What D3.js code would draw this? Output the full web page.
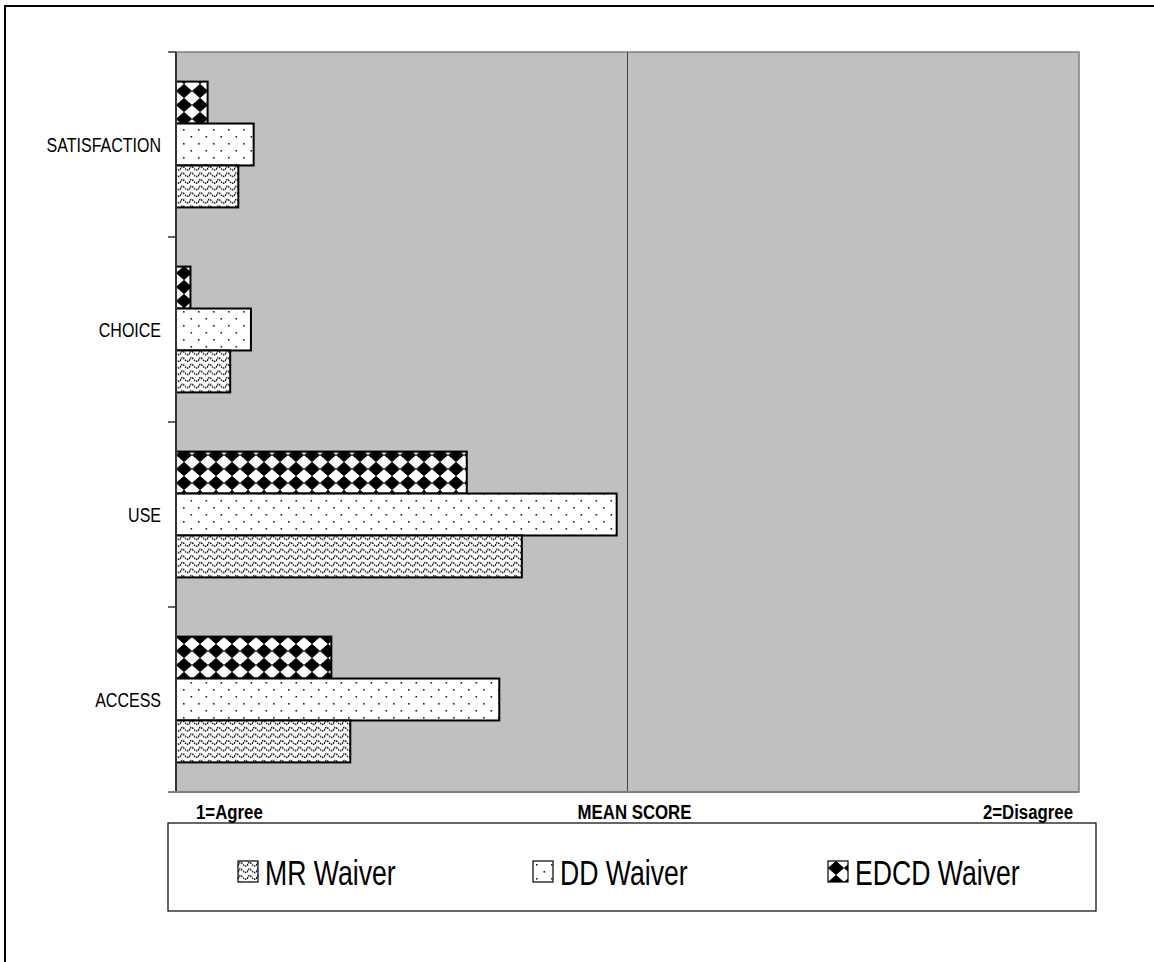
<!DOCTYPE html>
<html>
<head>
<meta charset="utf-8">
<script src="https://cdn.jsdelivr.net/npm/d3@7"></script>
<style>
  html, body { margin: 0; padding: 0; background: #fff; }
  svg { display: block; }
  text { font-family: "Liberation Sans", Arial, sans-serif; fill: #000; }
</style>
</head>
<body>
<svg id="chart" width="1154" height="962"></svg>
<script>
// Categories from top to bottom of the chart
const categories = ["SATISFACTION", "CHOICE", "USE", "ACCESS"];
// Series, in the order they are stacked inside each category (top to bottom)
const seriesNames = ["EDCD Waiver", "DD Waiver", "MR Waiver"];
// Mean scores per category (same order as categories)
const edcdValues = [1.035, 1.016, 1.322, 1.172];
const ddValues   = [1.086, 1.083, 1.488, 1.358];
const mrValues   = [1.069, 1.060, 1.383, 1.193];
// Legend order
const legendOrder = ["MR Waiver", "DD Waiver", "EDCD Waiver"];
const axisDomain = [1, 2];
const axisLabels = ["1=Agree", "MEAN SCORE", "2=Disagree"];

const valuesBySeries = {
  "EDCD Waiver": edcdValues,
  "DD Waiver": ddValues,
  "MR Waiver": mrValues
};
const patternId = {
  "EDCD Waiver": "pat-diamond",
  "DD Waiver": "pat-dots",
  "MR Waiver": "pat-wave"
};

// Narrow type: regular sans compressed horizontally
const NARROW = 0.8;
function narrowText(sel, x, y, anchor) {
  return sel.attr("text-anchor", anchor)
    .attr("transform", `translate(${x},${y}) scale(${NARROW},1)`);
}

const svg = d3.select("#chart");
const defs = svg.append("defs");

// Diamond checker fill
const pd = defs.append("pattern").attr("id", "pat-diamond")
  .attr("patternUnits", "userSpaceOnUse").attr("width", 16).attr("height", 14);
pd.append("rect").attr("width", 16).attr("height", 14).attr("fill", "#fff");
pd.append("path").attr("d", "M8,0.3 L15.7,7 L8,13.7 L0.3,7 Z")
  .attr("fill", "#000").attr("stroke", "#000").attr("stroke-width", 0.8)
  .attr("stroke-linejoin", "round");

// Sparse staggered dots
const pdots = defs.append("pattern").attr("id", "pat-dots")
  .attr("patternUnits", "userSpaceOnUse").attr("width", 15).attr("height", 14);
pdots.append("rect").attr("width", 15).attr("height", 14).attr("fill", "#fff");
pdots.append("rect").attr("x", 3).attr("y", 3).attr("width", 1.6).attr("height", 1.6).attr("fill", "#222");
pdots.append("rect").attr("x", 10.5).attr("y", 10).attr("width", 1.6).attr("height", 1.6).attr("fill", "#222");

// Dotted wavy lines
const pw = defs.append("pattern").attr("id", "pat-wave")
  .attr("patternUnits", "userSpaceOnUse").attr("width", 9).attr("height", 6.6);
pw.append("rect").attr("width", 9).attr("height", 6.6).attr("fill", "#fff");
pw.append("path").attr("d", "M0,4.5 C2.2,0.5 2.2,0.5 4.5,2.8 C6.8,5.2 6.8,5.2 9,4.5")
  .attr("fill", "none").attr("stroke", "#000").attr("stroke-width", 1.4)
  .attr("stroke-dasharray", "1.6,0.9");

// Outer frame (runs past the right and bottom edges)
svg.append("rect").attr("x", 5).attr("y", 6).attr("width", 1200).attr("height", 1000)
  .attr("fill", "none").attr("stroke", "#000").attr("stroke-width", 2);

const plot = { left: 176, right: 1079, top: 52, bottom: 792 };

const x = d3.scaleLinear().domain(axisDomain).range([plot.left, plot.right]);
const y = d3.scaleBand().domain(categories)
  .range([plot.top, plot.bottom]).paddingInner(0.32).paddingOuter(0.16);
const ySub = d3.scaleBand().domain(seriesNames).range([0, y.bandwidth()]);

// Plot background
svg.append("rect").attr("x", plot.left).attr("y", plot.top)
  .attr("width", plot.right - plot.left).attr("height", plot.bottom - plot.top)
  .attr("fill", "#c0c0c0").attr("stroke", "#808080").attr("stroke-width", 1.5);

// Midpoint gridline
svg.append("line")
  .attr("x1", x(1.5)).attr("x2", x(1.5))
  .attr("y1", plot.top).attr("y2", plot.bottom)
  .attr("stroke", "#404040").attr("stroke-width", 1);

// Bars
const rows = [];
categories.forEach((c, i) => {
  seriesNames.forEach(s => rows.push({ cat: c, series: s, value: valuesBySeries[s][i] }));
});
svg.append("g").selectAll("rect").data(rows).join("rect")
  .attr("x", x(axisDomain[0]))
  .attr("y", d => y(d.cat) + ySub(d.series))
  .attr("width", d => x(d.value) - x(axisDomain[0]))
  .attr("height", ySub.bandwidth())
  .attr("fill", d => `url(#${patternId[d.series]})`)
  .attr("stroke", "#000").attr("stroke-width", 2);

// Category axis with ticks at band boundaries
svg.append("line").attr("x1", plot.left).attr("x2", plot.left)
  .attr("y1", plot.top).attr("y2", plot.bottom)
  .attr("stroke", "#333").attr("stroke-width", 2);
svg.append("line").attr("x1", plot.left - 8).attr("x2", plot.right)
  .attr("y1", plot.bottom).attr("y2", plot.bottom)
  .attr("stroke", "#808080").attr("stroke-width", 2);
const step = y.step();
svg.append("g").selectAll("line").data(d3.range(categories.length)).join("line")
  .attr("x1", plot.left - 8).attr("x2", plot.left)
  .attr("y1", i => plot.top + i * step).attr("y2", i => plot.top + i * step)
  .attr("stroke", "#333").attr("stroke-width", 1.5);

svg.append("g").selectAll("text").data(categories).join("text")
  .each(function (d) {
    narrowText(d3.select(this), 161, y(d) + y.bandwidth() / 2, "end");
  })
  .attr("dy", "0.36em")
  .attr("font-size", 20)
  .text(d => d);

// Bottom axis captions
const capY = 819;
const capX = [196, x(1.5) + 7, 1073];
const capAnchor = ["start", "middle", "end"];
svg.append("g").selectAll("text").data(axisLabels).join("text")
  .each(function (d, i) { narrowText(d3.select(this), capX[i], capY, capAnchor[i]); })
  .attr("font-size", 21).attr("font-weight", "bold")
  .text(d => d);

// Legend
svg.append("rect").attr("x", 168).attr("y", 823).attr("width", 928).attr("height", 88)
  .attr("fill", "#fff").attr("stroke", "#000").attr("stroke-width", 1.2);
const legendX = { "MR Waiver": 238, "DD Waiver": 533, "EDCD Waiver": 828 };
const lg = svg.append("g").selectAll("g").data(legendOrder).join("g")
  .attr("transform", d => `translate(${legendX[d]},861)`);
lg.append("rect").attr("x", 0).attr("y", 0).attr("width", 20).attr("height", 21)
  .attr("fill", d => `url(#${patternId[d]})`).attr("stroke", "#000").attr("stroke-width", 1.2);
lg.append("text")
  .attr("transform", `translate(27,24) scale(0.74,1)`)
  .attr("font-size", 36).text(d => d);
</script>
</body>
</html>
